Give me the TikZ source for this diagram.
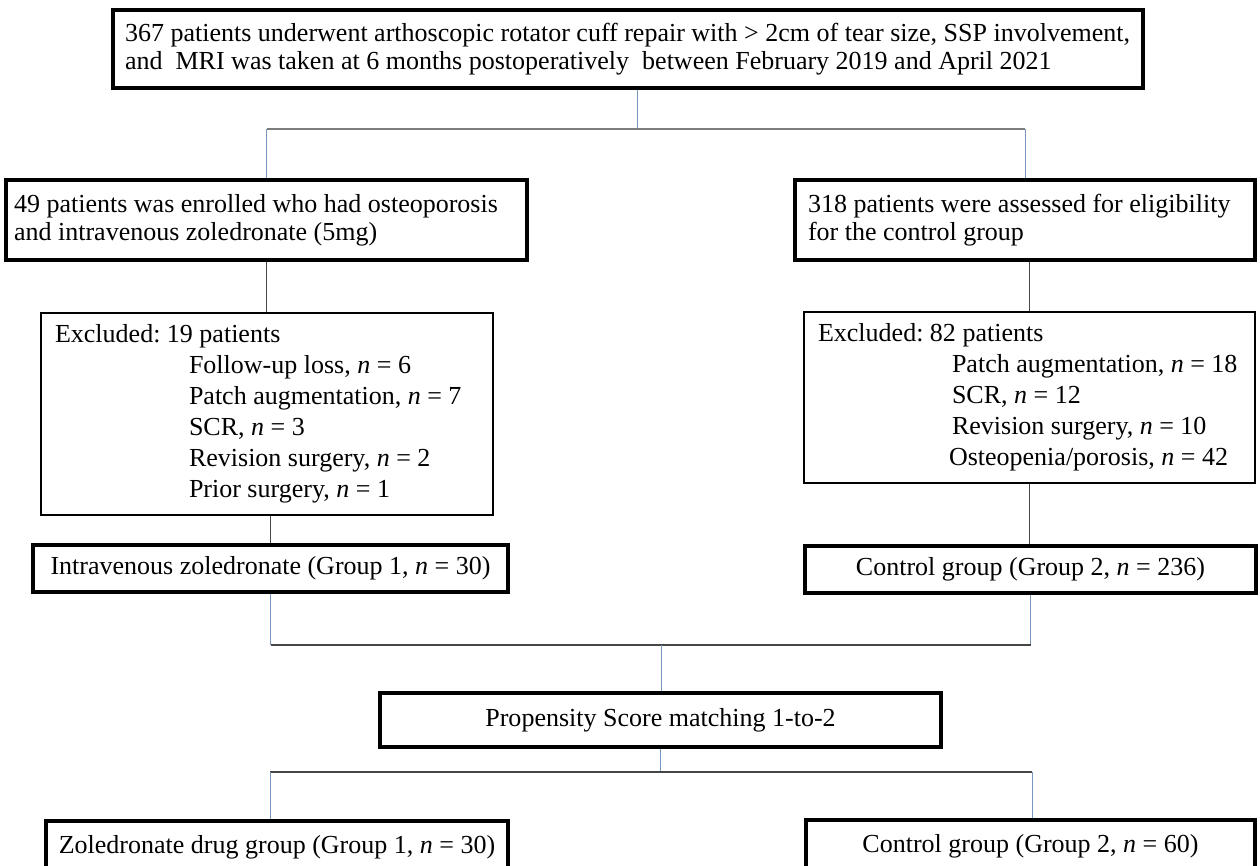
\documentclass[tikz,border=0pt]{standalone}
\usepackage{fontspec}
\setmainfont{Liberation Serif}
\usepackage{xcolor}
\usepackage{tikz}

\definecolor{linkblue}{RGB}{120,150,190}
\definecolor{linkgray}{RGB}{125,125,125}
\definecolor{linkdark}{RGB}{70,70,70}

\begin{document}
\frenchspacing
\begin{tikzpicture}[
    x=0.02cm, y=-0.02cm,
    every node/.style={draw, rectangle, inner ysep=0pt, font=\fontsize{14.8}{16}\selectfont},
    thickbox/.style={line width=2.3pt},
    thinbox/.style={line width=0.9pt, inner xsep=0.1cm, align=flush left, font=\fontsize{14.8}{17.6}\selectfont},
    bluelink/.style={draw=linkblue, line width=0.55pt},
    graylink/.style={draw=linkgray, line width=0.8pt},
    darklink/.style={draw=linkdark, line width=0.7pt}
]
    \useasboundingbox (0,0) rectangle (1260,865);
    \clip (0,0) rectangle (1260,865);

    % Nodes
    \node[thickbox, text width=20.24cm, inner xsep=0.18cm, minimum height=1.56cm, align=flush left] (cohort) at (628,49)
        {\hspace*{0.06cm}367 patients underwent arthoscopic rotator cuff repair with > 2cm of tear size, SSP involvement,\\
         \hspace*{0.06cm}and\ \ MRI was taken at 6 months postoperatively\ \ between February 2019 and April 2021};
    \node[thickbox, text width=10.1cm, inner xsep=0.16cm, minimum height=1.6cm, align=flush left] (enrol) at (266.5,220)
        {49 patients was enrolled who had osteoporosis\\ and intravenous zoledronate (5mg)};
    \node[thickbox, text width=8.8cm, inner xsep=0.2cm, minimum height=1.6cm, align=flush left] (assess) at (1025,220)
        {\hspace*{0.06cm}318 patients were assessed for eligibility\\ \hspace*{0.06cm}for the control group};
    \node[thinbox, text width=8.84cm, minimum height=4.04cm] (exclA) at (267,414)
        {\hspace*{0.18cm}Excluded: 19 patients\\
         \hspace*{2.86cm}Follow-up loss, \textit{n} = 6\\
         \hspace*{2.86cm}Patch augmentation, \textit{n} = 7\\
         \hspace*{2.86cm}SCR, \textit{n} = 3\\
         \hspace*{2.86cm}Revision surgery, \textit{n} = 2\\
         \hspace*{2.86cm}Prior surgery, \textit{n} = 1};
    \node[thinbox, text width=8.82cm, minimum height=3.42cm] (exclB) at (1029.5,397.5)
        {\hspace*{0.18cm}Excluded: 82 patients\\
         \hspace*{2.86cm}Patch augmentation, \textit{n} = 18\\
         \hspace*{2.86cm}SCR, \textit{n} = 12\\
         \hspace*{2.86cm}Revision surgery, \textit{n} = 10\\
         \hspace*{2.80cm}Osteopenia/porosis, \textit{n} = 42};
    \node[thickbox, minimum width=9.5cm, minimum height=0.94cm] (ivz) at (270.5,568.5)
        {Intravenous zoledronate (Group 1, \textit{n} = 30)};
    \node[thickbox, minimum width=9.02cm, minimum height=0.94cm] (ctrlA) at (1030.5,569.5)
        {Control group (Group 2, \textit{n} = 236)};
    \node[thickbox, minimum width=11.22cm, minimum height=1.08cm] (psm) at (660.5,720)
        {Propensity Score matching 1-to-2};
    \node[thickbox, minimum width=9.24cm, minimum height=1.04cm] (zol) at (277,847)
        {Zoledronate drug group (Group 1, \textit{n} = 30)};
    \node[thickbox, minimum width=8.98cm, minimum height=1.04cm] (ctrlB) at (1030.5,846)
        {Control group (Group 2, \textit{n} = 60)};

    % Junctions
    \coordinate (split) at (637,129);
    \coordinate (merge) at (661,645);
    \coordinate (splitL) at (270,772);
    \coordinate (splitR) at (1032,772);

    % Lines
    \draw[bluelink] (cohort.south -| split) -- (split);
    \draw[graylink] (split -| enrol.north) -- (split -| assess.north);
    \draw[bluelink] (split -| enrol.north) -- (enrol.north);
    \draw[bluelink] (split -| assess.north) -- (assess.north);
    \draw[darklink] (enrol.south) -- (enrol.south |- exclA.north);
    \draw[darklink] (assess.south -| exclB.north) -- (exclB.north);
    \draw[darklink] (exclA.south -| ivz.north) -- (ivz.north);
    \draw[darklink] (exclB.south) -- (exclB.south |- ctrlA.north);
    \draw[bluelink] (ivz.south) -- (ivz.south |- merge);
    \draw[bluelink] (ctrlA.south) -- (ctrlA.south |- merge);
    \draw[darklink] (ivz.south |- merge) -- (ctrlA.south |- merge);
    \draw[bluelink] (merge) -- (merge |- psm.north);
    \draw[bluelink] (psm.south) -- (psm.south |- splitL);
    \draw[darklink] (splitL) -- (splitR);
    \draw[bluelink] (splitL) -- (splitL |- zol.north);
    \draw[bluelink] (splitR) -- (splitR |- ctrlB.north);
\end{tikzpicture}
\end{document}
